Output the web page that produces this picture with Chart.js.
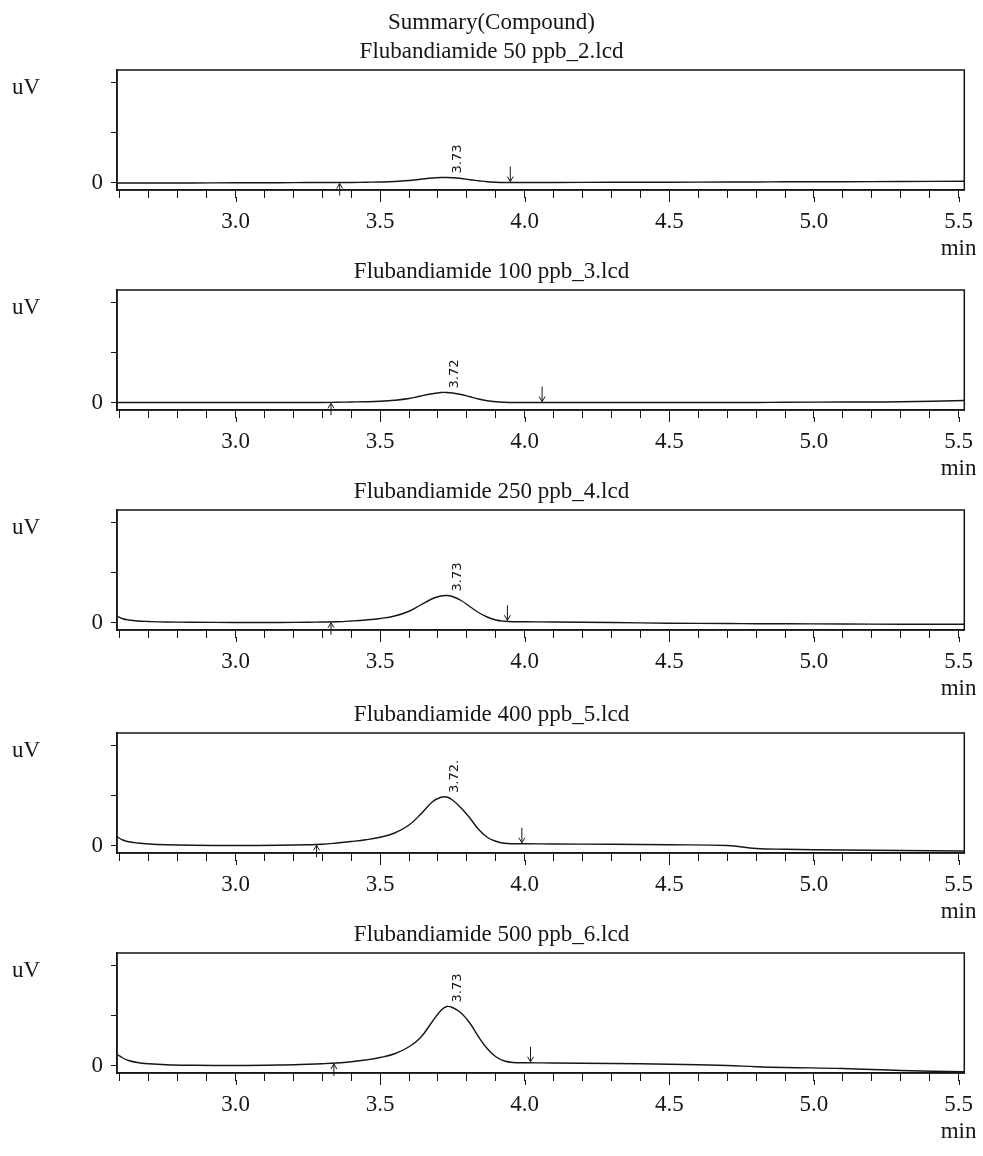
<!DOCTYPE html>
<html>
<head>
<meta charset="utf-8">
<title>Summary(Compound)</title>
<script src="https://cdn.jsdelivr.net/npm/chart.js@4.4.1/dist/chart.umd.min.js"></script>
<style>
  html, body { margin: 0; padding: 0; background: #fff; }
  #page { position: relative; width: 983px; height: 1156px; overflow: hidden; }
  #page canvas { position: absolute; left: 0; }
</style>
</head>
<body>
<div id="page"></div>
<script>
// ===== values (uV in tick units, time in min) =====
const times = [2.59, 2.61, 2.63, 2.66, 2.70, 2.76, 2.85, 3.00, 3.15, 3.25, 3.30, 3.35, 3.40,
  3.45, 3.50, 3.55, 3.60, 3.64, 3.68, 3.71, 3.73, 3.75, 3.78, 3.81, 3.84, 3.87, 3.90, 3.93,
  3.96, 4.00, 4.10, 4.30, 4.50, 4.70, 4.80, 4.90, 5.10, 5.30, 5.52];

const signal50 = [-0.02, -0.02, -0.02, -0.02, -0.02, -0.02, -0.02, -0.01, -0.01, 0.0, 0.0, 0.0, 0.0,
  0.01, 0.02, 0.04, 0.08, 0.13, 0.18, 0.20, 0.20, 0.19, 0.16, 0.11, 0.07, 0.03, 0.01, 0.0,
  0.0, 0.0, 0.0, 0.01, 0.01, 0.02, 0.02, 0.03, 0.03, 0.04, 0.05];

const signal100 = [0.0, 0.0, 0.0, 0.0, 0.0, 0.0, 0.0, 0.0, 0.0, 0.0, 0.0, 0.01, 0.02,
  0.03, 0.05, 0.09, 0.16, 0.26, 0.35, 0.40, 0.40, 0.38, 0.32, 0.23, 0.14, 0.07, 0.03, 0.01,
  0.0, 0.0, 0.0, 0.0, 0.0, 0.0, 0.0, 0.01, 0.02, 0.03, 0.08];

const signal250 = [0.25, 0.15, 0.10, 0.06, 0.04, 0.02, 0.01, 0.0, 0.0, 0.01, 0.02, 0.03, 0.06,
  0.10, 0.16, 0.26, 0.45, 0.70, 0.95, 1.06, 1.08, 1.04, 0.88, 0.64, 0.40, 0.22, 0.10, 0.05,
  0.03, 0.03, 0.02, 0.0, -0.03, -0.04, -0.05, -0.05, -0.06, -0.07, -0.07];

const signal400 = [0.35, 0.22, 0.15, 0.10, 0.06, 0.03, 0.01, 0.0, 0.01, 0.03, 0.05, 0.10, 0.16,
  0.23, 0.33, 0.50, 0.82, 1.25, 1.74, 1.93, 1.94, 1.82, 1.50, 1.10, 0.65, 0.33, 0.17, 0.09,
  0.07, 0.07, 0.06, 0.05, 0.03, 0.0, -0.12, -0.15, -0.18, -0.20, -0.22];

const signal500 = [0.45, 0.30, 0.20, 0.12, 0.07, 0.03, 0.01, 0.0, 0.02, 0.05, 0.07, 0.10, 0.15,
  0.22, 0.32, 0.47, 0.75, 1.12, 1.75, 2.20, 2.36, 2.32, 2.10, 1.70, 1.15, 0.68, 0.35, 0.18,
  0.12, 0.11, 0.10, 0.08, 0.05, 0.0, -0.05, -0.08, -0.12, -0.20, -0.25];

const panelTitles = [
  "Flubandiamide 50 ppb_2.lcd",
  "Flubandiamide 100 ppb_3.lcd",
  "Flubandiamide 250 ppb_4.lcd",
  "Flubandiamide 400 ppb_5.lcd",
  "Flubandiamide 500 ppb_6.lcd",
];
const pageHeader = "Summary(Compound)";
const peakTimes = [3.73, 3.72, 3.73, 3.72, 3.73];
const peakLabels = ["3.73", "3.72", "3.73", "3.72.", "3.73"];
const peakStarts = [3.36, 3.33, 3.33, 3.28, 3.34];
const peakEnds = [3.95, 4.06, 3.94, 3.99, 4.02];

const xTickValues = [2.6, 2.7, 2.8, 2.9, 3.0, 3.1, 3.2, 3.3, 3.4, 3.5, 3.6, 3.7, 3.8, 3.9, 4.0,
  4.1, 4.2, 4.3, 4.4, 4.5, 4.6, 4.7, 4.8, 4.9, 5.0, 5.1, 5.2, 5.3, 5.4, 5.5];
const xMajorTicks = [3.0, 3.5, 4.0, 4.5, 5.0, 5.5];
const yTickValues = [0, 1, 2, 3, 4];

const allSignals = [signal50, signal100, signal250, signal400, signal500];
const panelTops = [0, 220, 440, 663, 883];   // canvas offsets on the page

const INK = "#161616";
const SERIF = "'Liberation Serif', 'Times New Roman', serif";

function valueNear(arr, t) {
  let best = 0;
  for (let i = 1; i < times.length; i++) {
    if (Math.abs(times[i] - t) < Math.abs(times[best] - t)) best = i;
  }
  return arr[best];
}

// frame, titles, uV / min labels, peak label and start/end arrows
const chromPlugin = {
  id: "chrom",
  afterDraw(chart, args, opts) {
    const { ctx, chartArea: a } = chart;
    const x = chart.scales.x, y = chart.scales.y;
    ctx.save();
    ctx.strokeStyle = INK;
    ctx.lineWidth = 1.5;
    ctx.strokeRect(a.left, a.top, a.right - a.left, a.bottom - a.top);

    // major ticks are a little longer than the 0.1 min ones
    ctx.lineWidth = 1;
    ctx.beginPath();
    xMajorTicks.forEach(m => {
      const px = Math.round(x.getPixelForValue(m)) + 0.5;
      ctx.moveTo(px, a.bottom + 7);
      ctx.lineTo(px, a.bottom + 12);
    });
    ctx.stroke();

    ctx.fillStyle = INK;
    ctx.textAlign = "center";
    ctx.textBaseline = "middle";
    ctx.font = "23px " + SERIF;
    ctx.fillText(opts.title, chart.width / 2, a.top - 18);
    if (opts.header) ctx.fillText(opts.header, chart.width / 2, a.top - 47);

    ctx.fillText("uV", 26, y.getPixelForValue(3.8));
    ctx.fillText("min", x.getPixelForValue(5.5), y.getPixelForValue(0) + 66);

    // retention time label, rotated
    const sig = opts.signal;
    const top = Math.max(...sig);
    ctx.save();
    ctx.translate(x.getPixelForValue(opts.peakTime) + 11, y.getPixelForValue(top) - 4);
    ctx.rotate(-Math.PI / 2);
    ctx.textAlign = "left";
    ctx.font = "13px 'DejaVu Sans', sans-serif";
    ctx.fillText(opts.peakLabel, 0, 0);
    ctx.restore();

    // integration arrows
    ctx.lineWidth = 1;
    const ex = x.getPixelForValue(opts.end), ey = y.getPixelForValue(valueNear(sig, opts.end));
    ctx.beginPath();
    ctx.moveTo(ex, ey - 16); ctx.lineTo(ex, ey - 1);
    ctx.moveTo(ex - 3, ey - 6); ctx.lineTo(ex, ey - 1); ctx.lineTo(ex + 3, ey - 6);
    const sx = x.getPixelForValue(opts.start), sy = y.getPixelForValue(valueNear(sig, opts.start));
    ctx.moveTo(sx, sy + 13); ctx.lineTo(sx, sy + 1);
    ctx.moveTo(sx - 3, sy + 6); ctx.lineTo(sx, sy + 1); ctx.lineTo(sx + 3, sy + 6);
    ctx.stroke();
    ctx.restore();
  },
};

function makePanel(i) {
  const canvas = document.createElement("canvas");
  canvas.width = 983;
  canvas.height = 270;
  canvas.style.top = panelTops[i] + "px";
  document.getElementById("page").appendChild(canvas);

  const sig = allSignals[i];
  return new Chart(canvas, {
    type: "line",
    data: {
      datasets: [{
        data: times.map((t, k) => ({ x: t, y: sig[k] })),
        borderColor: INK,
        borderWidth: 1.4,
        pointRadius: 0,
        fill: false,
        tension: 0.4,
      }],
    },
    options: {
      animation: false,
      responsive: false,
      devicePixelRatio: 1,
      layout: { padding: { top: 70, right: 16, bottom: 0, left: 0 } },
      plugins: {
        legend: { display: false },
        tooltip: { enabled: false },
        chrom: {
          title: panelTitles[i],
          header: i === 0 ? pageHeader : null,
          signal: sig,
          peakTime: peakTimes[i],
          peakLabel: peakLabels[i],
          start: peakStarts[i],
          end: peakEnds[i],
        },
      },
      scales: {
        x: {
          type: "linear",
          min: 2.59,
          max: 5.52,
          afterBuildTicks: (s) => { s.ticks = xTickValues.map(v => ({ value: v })); },
          afterFit: (s) => { s.height = 80; },
          border: { display: true, color: INK, width: 1.5 },
          grid: { drawOnChartArea: false, drawTicks: true, tickLength: 8, color: INK, tickWidth: 1 },
          ticks: {
            autoSkip: false,
            maxRotation: 0,
            padding: 10,
            color: INK,
            font: { family: SERIF, size: 23 },
            callback: (v) => xMajorTicks.some(m => Math.abs(m - v) < 1e-6) ? v.toFixed(1) : "",
          },
        },
        y: {
          min: -0.3,
          max: 4.5,
          afterBuildTicks: (s) => { s.ticks = yTickValues.map(v => ({ value: v })); },
          afterFit: (s) => { s.width = 117; },
          border: { display: true, color: INK, width: 1.5 },
          grid: { drawOnChartArea: false, drawTicks: true, tickLength: 6, color: INK, tickWidth: 1 },
          ticks: {
            padding: 8,
            color: INK,
            font: { family: SERIF, size: 23 },
            callback: (v) => v === 0 ? "0" : "",
          },
        },
      },
    },
    plugins: [chromPlugin],
  });
}

for (let i = 0; i < panelTitles.length; i++) makePanel(i);
</script>
</body>
</html>
